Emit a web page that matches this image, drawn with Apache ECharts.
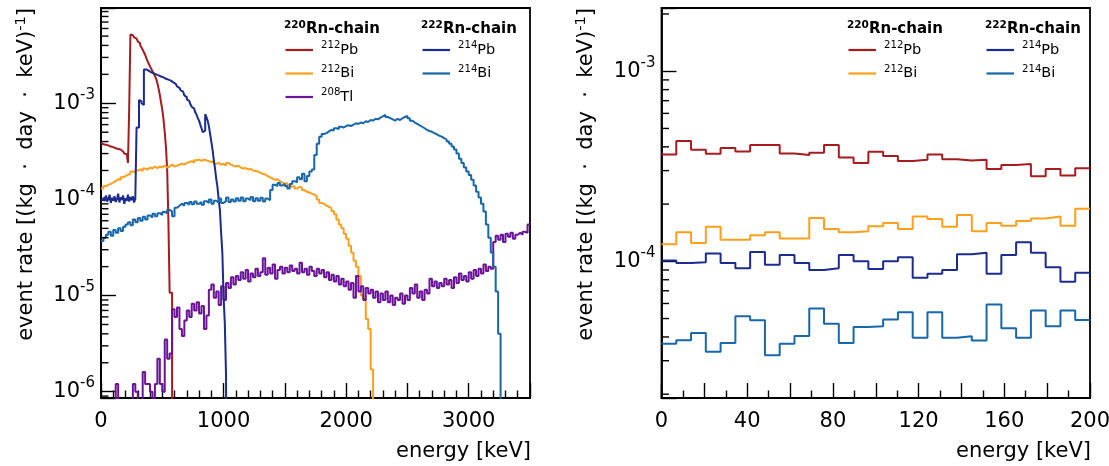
<!DOCTYPE html>
<html><head><meta charset="utf-8">
<script src="https://cdn.jsdelivr.net/npm/echarts@6/dist/echarts.min.js"></script>
<style>html,body{margin:0;padding:0;background:#fff}#c{width:1109px;height:466px}</style>
</head><body><div id="c"></div>
<script>
// ---------- DATA (values in units of 1e-5 events/(kg day keV)) ----------
const UNIT = 1e-5;

// Left panel: full spectrum, 0-3500 keV
const leftXTicks = [0, 1000, 2000, 3000];
const leftPb212Bin = 10;
const leftPb212 = [38.5,37.5,38,37,37.5,36.5,36,35.5,35,35,34.5,34,34,33.5,33,33,32,31.5,31,30,29.5,28.5,24,89,
  520,510,500,485,470,455,440,420,400,380,360,340,320,295,275,258,242,228,215,204,192,180,162,142,122,102,
  86,68,50,35,20,5.9,1.07,1.07,0.12,0];
const leftPb214Bin = 10;
const leftPb214 = [10.0,9.8,10.5,9.6,11.0,9.5,10.2,11.2,9.2,10.4,9.7,10.8,9.4,10.0,11.5,9.3,10.5,9.9,11.0,9.0,
  10.3,9.7,11.2,9.5,10.6,9.8,10.8,9.3,10.2,
  56,56,108,105,100,96,225,225,220,218,215,210,210,205,205,200,198,195,192,190,188,186,184,180,178,176,175,172,
  168,165,162,159,155,150,145,140,136,132,127,121,116,110,106,102,97,92,88,84,80,76,70,66,60,55,50,52,77,72,66,
  58,48,40,33,26,21,16.5,13.5,10,7.8,4.5,2.8,0.98,0.52,0.15,0];
const leftBi212Bin = 20;
const leftBi212 = [13.0,13.8,14.2,14.5,15.0,15.5,16.2,16.0,17.0,17.5,
  18.0,18.5,19.5,19.0,20.0,20.5,19.8,21.0,20.5,21.5,
  21.0,22.0,21.2,22.0,21.5,22.5,21.5,22.0,23.0,22.0,
  22.5,23.0,23.5,23.0,24.0,24.5,25.0,24.2,25.5,26.0,
  25.2,26.0,25.5,25.0,24.5,25.0,23.5,24.0,23.0,23.5,
  22.5,24.0,23.0,22.5,22.0,22.5,21.5,21.0,21.2,20.5,
  20.8,20.0,19.8,19.5,19.0,18.5,18.2,17.5,17.0,16.5,
  16.0,16.2,15.5,15.0,14.5,14.8,14.0,13.5,13.8,13.0,
  13.5,13.2,12.5,12.0,11.8,11.5,11.2,10.8,10.0,9.2,
  9.0,8.6,8.4,8.1,7.6,7.0,6.2,5.5,5.0,4.4,
  3.9,3.3,2.8,2.3,2.0,1.6,1.0,0.92,0.57,0.45,
  0.17,0];
const leftBi214Bin = 20;
const leftBi214 = [3.7,4.0,4.3,4.6,4.2,4.8,4.5,5.0,4.7,5.2,
  5.5,5.8,5.4,6.2,5.8,6.4,6.0,6.6,6.2,6.8,
  6.5,7.1,6.7,7.2,6.9,7.4,7.2,7.8,7.5,6.7,
  8.2,8.6,9.0,8.6,9.2,8.8,9.4,8.9,9.5,9.0,
  9.4,8.8,9.6,9.2,10.0,9.0,9.7,9.3,10.2,9.2,
  9.6,10.5,9.4,10.0,9.5,10.3,9.7,10.5,9.6,10.2,
  9.8,10.6,9.6,10.3,9.7,10.4,9.5,10.2,9.8,12.5,
  14.2,13.8,14.8,14.0,14.5,13.8,13.0,14.5,15.5,15.0,
  17.0,16.2,18.5,15.5,17.5,19.5,20.5,29,38,45,
  48,49,51,53,52,55,54,57,56,58,
  59,58,60,62,61,63,62,65,64,67,
  66,69,68,71,73,76,72,70,68,66,
  69,67,70,72,74,70,66,63,61,59,
  57,55,53,51.5,50.5,49,47.5,46,45,43.5,
  42,40,38,35.5,33,30,26.5,24,21.5,19.5,
  18,16,14,12,10.5,9.0,7.5,5.5,4.0,2.8,
  2.0,1.1,0.4,0];
const leftTl208Bin = 20;
const leftTl208 = [0,0,0,0,0,0,0.12,0,0,0,
  0,0,0,0.12,0.1,0,0,0.16,0.12,0.12,
  0.1,0,0.12,0.22,0.12,0.1,0.35,0.22,0.25,0.72,
  0.6,0.75,0.45,0.38,0.55,0.7,0.6,0.82,0.7,0.85,
  0.65,0.78,0.45,0.62,1.15,1.3,0.95,1.1,0.8,1.25,
  0.9,1.35,1.2,1.55,1.3,1.6,1.45,1.75,1.5,1.85,
  1.4,1.7,1.55,1.9,1.6,1.75,2.45,1.65,1.95,1.7,
  2.1,1.5,1.85,2.0,1.7,1.95,1.75,2.05,1.8,1.9,
  1.7,2.2,1.75,1.9,1.65,2.0,1.8,1.6,1.9,1.7,
  1.85,1.55,1.75,1.45,1.65,1.4,1.6,1.3,1.5,1.25,
  1.4,1.15,1.35,0.95,1.6,1.1,1.25,0.9,1.2,1.05,
  1.15,0.95,1.1,0.85,1.05,0.9,1.1,0.85,1.0,0.8,
  0.95,0.9,1.05,0.82,1.0,0.9,1.2,1.05,1.3,0.95,
  1.1,0.9,1.15,1.05,1.5,1.25,1.4,1.2,1.35,1.25,
  1.5,1.3,1.45,1.2,1.55,1.35,1.7,1.45,1.6,1.4,
  1.75,1.5,1.85,1.6,1.9,1.7,2.1,1.8,2.0,1.9,
  3.6,4.2,3.8,4.3,3.6,4.4,4.1,4.5,3.9,4.3,
  4.5,4.3,4.6,4.5,5.5];

// Right panel: low-energy zoom 0-200 keV, 29 bins
const rightXTicks = [0, 40, 80, 120, 160, 200];
const rightBinCount = 29;
const rightPb212 = [36.5,42.9,38.6,36.8,39.4,37.8,40.9,40.9,36.9,36.2,37.2,40.9,35.2,32.9,37.7,35.8,33.7,34.2,36.5,34.4,33.9,34.2,30.6,32.1,32.5,28.0,30.6,28.3,30.9];
const rightBi212 = [12.3,14.2,12.5,15.2,13.0,13.0,13.7,14.2,13.2,13.2,16.9,14.8,14.2,14.4,15.3,15.9,14.8,17.2,16.7,15.2,17.5,14.4,15.9,15.4,16.3,16.8,17.2,15.4,18.9];
const rightPb214 = [10.1,9.8,9.9,11.0,9.8,9.2,11.2,9.6,10.8,9.8,9.0,9.2,10.8,10.0,9.1,10.0,10.5,8.2,8.6,9.0,10.9,11.1,8.6,10.8,12.6,11.1,9.3,7.8,8.7];
const rightBi214 = [3.69,3.84,4.20,3.34,3.72,5.14,4.90,3.21,3.69,4.05,5.64,4.70,3.72,4.52,4.55,4.94,5.40,3.96,5.40,3.96,4.03,3.83,5.92,4.45,3.96,5.51,4.55,5.51,4.92];

// ---------- STYLE ----------
const FONT = 'DejaVu Sans';
const COL = {pb212:'#a61b1f', bi212:'#ff9f1c', tl208:'#6b1396', pb214:'#1b2b8e', bi214:'#1767aa'};
const TINY = 1e-9;
const L = {left:101, top:8, width:429, height:390, xmax:3500, ymin:8.6e-7, ymax:9.8e-3};
const R = {left:661.5, top:8, width:428.5, height:390, xmax:200, ymin:1.91e-5, ymax:2.15e-3};

function hist(vals, width) {
  const pts = vals.map((v, i) => [i * width, v > 0 ? v * UNIT : TINY]);
  pts.push([vals.length * width, pts[pts.length - 1][1]]);
  return pts;
}
function lineSeries(name, data, color, gi) {
  return {name, type:'line', step:'end', xAxisIndex:gi, yAxisIndex:gi, data, showSymbol:false, symbol:'none',
    lineStyle:{color, width:2}, itemStyle:{color}, silent:true, animation:false, clip:true};
}
function minorVals(min, max) {
  const out = [];
  for (let d = -8; d <= 0; d++) for (let m = 2; m <= 9; m++) {
    const v = m * Math.pow(10, d);
    if (v > min * 1.001 && v < max * 0.999) out.push(v);
  }
  return out;
}
function minorTicks(gi, min, max) {
  return {type:'custom', xAxisIndex:gi, yAxisIndex:gi, silent:true, animation:false, z:5,
    data: minorVals(min, max).map(v => [0, v]),
    renderItem: (p, api) => {
      const c = api.coord([0, api.value(1)]);
      return {type:'line', shape:{x1:c[0], y1:c[1], x2:c[0] + 7.5, y2:c[1]}, style:{stroke:'#000', lineWidth:1.4}};
    }};
}
function expLabel(v) {
  const e = Math.log10(v), r = Math.round(e);
  if (Math.abs(e - r) > 1e-6) return '';
  return '{b|10}{s|' + r + '}';
}
const labelRich = {
  b:{fontSize:21, lineHeight:32, fontFamily:FONT, color:'#000'},
  s:{fontSize:15, lineHeight:15, verticalAlign:'top', fontFamily:FONT, color:'#000'}
};
function xAxis(gi, max, interval, labelEvery) {
  return {type:'value', gridIndex:gi, min:0, max, interval,
    axisLine:{show:true, lineStyle:{color:'#000', width:1.8}},
    axisTick:{show:true, inside:true, length:15, lineStyle:{color:'#000', width:1.4}},
    minorTick:{show:true, splitNumber: gi === 0 ? 5 : 2, length:7.5, lineStyle:{color:'#000', width:1.4}},
    splitLine:{show:false}, minorSplitLine:{show:false},
    axisLabel:{interval:0, margin:13, fontSize:21, fontFamily:FONT, color:'#000',
      formatter: v => (Math.abs(v / labelEvery - Math.round(v / labelEvery)) < 1e-6 ? String(Math.round(v)) : '')}};
}
function yAxis(gi, min, max) {
  return {type:'log', logBase:10, gridIndex:gi, min, max,
    axisLine:{show:true, lineStyle:{color:'#000', width:1.8}},
    axisTick:{show:true, inside:true, length:15, lineStyle:{color:'#000', width:1.4}},
    splitLine:{show:false}, minorTick:{show:false},
    axisLabel:{margin:6, formatter:expLabel, rich:labelRich, fontSize:21, fontFamily:FONT, color:'#000'}};
}

const supRich = (size, bold) => ({
  s:{fontSize:size * 0.7, lineHeight:size * 0.7, verticalAlign:'top', fontFamily:FONT, fontWeight:bold ? 'bold' : 'normal', fill:'#000'},
  b:{fontSize:size, lineHeight:size * 1.3, fontFamily:FONT, fontWeight:bold ? 'bold' : 'normal', fill:'#000'}
});
function txt(x, y, text, size, bold, align, rot) {
  return {type:'text', x, y, rotation: rot || 0, silent:true,
    style:{text, rich:supRich(size, bold), fontSize:size, fontFamily:FONT, fill:'#000', align: align || 'left', verticalAlign:'middle'}};
}
function legendRow(x, y, color, iso, el) {
  return [
    {type:'line', silent:true, shape:{x1:x + 1.5, y1:y, x2:x + 29, y2:y}, style:{stroke:color, lineWidth:2.2}},
    txt(x + 37, y, '{s|' + iso + '}{b|' + el + '}', 14.5, false)
  ];
}
const rowY = [50, 73.5, 97];
function legendBlock(x1, x2, rows1, rows2) {
  let g = [txt(x1, 29.5, '{s|220}{b|Rn-chain}', 15, true), txt(x2, 29.5, '{s|222}{b|Rn-chain}', 15, true)];
  rows1.forEach((r, i) => { g = g.concat(legendRow(x1, rowY[i], r[0], r[1], r[2])); });
  rows2.forEach((r, i) => { g = g.concat(legendRow(x2, rowY[i], r[0], r[1], r[2])); });
  return g;
}
const yTitle = '{b|event rate [(kg  ·  day  ·  keV)}{s|-1}{b|]}';
let graphics = [];
graphics = graphics.concat(legendBlock(284, 421,
  [[COL.pb212, '212', 'Pb'], [COL.bi212, '212', 'Bi'], [COL.tl208, '208', 'Tl']],
  [[COL.pb214, '214', 'Pb'], [COL.bi214, '214', 'Bi']]));
graphics = graphics.concat(legendBlock(847, 985,
  [[COL.pb212, '212', 'Pb'], [COL.bi212, '212', 'Bi']],
  [[COL.pb214, '214', 'Pb'], [COL.bi214, '214', 'Bi']]));
graphics.push(txt(L.left + L.width + 1, 452, '{b|energy [keV]}', 21, false, 'right'));
graphics.push(txt(R.left + R.width + 1, 452, '{b|energy [keV]}', 21, false, 'right'));
graphics.push(txt(27, 8, yTitle, 21, false, 'right', Math.PI / 2));
graphics.push(txt(587, 8, yTitle, 21, false, 'right', Math.PI / 2));

const rW = R.xmax / rightBinCount;
const option = {
  animation:false,
  backgroundColor:'#fff',
  grid:[
    {left:L.left, top:L.top, width:L.width, height:L.height, show:true, borderColor:'#000', borderWidth:1.8, containLabel:false, outerBoundsMode:'none'},
    {left:R.left, top:R.top, width:R.width, height:R.height, show:true, borderColor:'#000', borderWidth:1.8, containLabel:false, outerBoundsMode:'none'}
  ],
  xAxis:[xAxis(0, L.xmax, 500, 1000), xAxis(1, R.xmax, 20, 40)],
  yAxis:[yAxis(0, L.ymin, L.ymax), yAxis(1, R.ymin, R.ymax)],
  series:[
    lineSeries('212Pb', hist(leftPb212, leftPb212Bin), COL.pb212, 0),
    lineSeries('212Bi', hist(leftBi212, leftBi212Bin), COL.bi212, 0),
    lineSeries('208Tl', hist(leftTl208, leftTl208Bin), COL.tl208, 0),
    lineSeries('214Pb', hist(leftPb214, leftPb214Bin), COL.pb214, 0),
    lineSeries('214Bi', hist(leftBi214, leftBi214Bin), COL.bi214, 0),
    lineSeries('212Pb', hist(rightPb212, rW), COL.pb212, 1),
    lineSeries('212Bi', hist(rightBi212, rW), COL.bi212, 1),
    lineSeries('214Pb', hist(rightPb214, rW), COL.pb214, 1),
    lineSeries('214Bi', hist(rightBi214, rW), COL.bi214, 1),
    minorTicks(0, L.ymin, L.ymax),
    minorTicks(1, R.ymin, R.ymax)
  ],
  graphic: graphics
};
const chart = echarts.init(document.getElementById('c'), null, {renderer:'canvas'});
chart.setOption(option);
</script>
</body></html>
